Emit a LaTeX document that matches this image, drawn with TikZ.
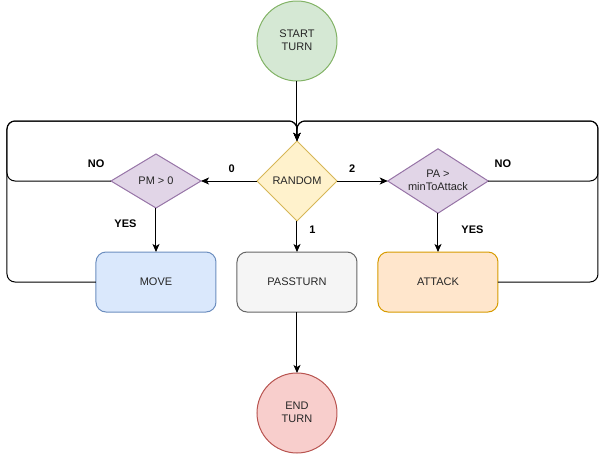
\documentclass[tikz,border=0pt]{standalone}
\usepackage{fontspec}
\setmainfont{Liberation Sans}
\usepackage{tikz}
\usetikzlibrary{arrows.meta,matrix,shapes.geometric,positioning,calc}

\definecolor{startfill}{HTML}{D5E8D4}\definecolor{startline}{HTML}{82B366}
\definecolor{randfill}{HTML}{FFF2CC}\definecolor{randline}{HTML}{D6B656}
\definecolor{condfill}{HTML}{E1D5E7}\definecolor{condline}{HTML}{9673A6}
\definecolor{movefill}{HTML}{DAE8FC}\definecolor{moveline}{HTML}{6C8EBF}
\definecolor{passfill}{HTML}{F5F5F5}\definecolor{passline}{HTML}{666666}
\definecolor{atkfill}{HTML}{FFE6CC}\definecolor{atkline}{HTML}{D79B00}
\definecolor{endfill}{HTML}{F8CECC}\definecolor{endline}{HTML}{B85450}

\newcommand{\twoline}[2]{\begin{tabular}{@{}c@{}}#1\\#2\end{tabular}}

\begin{document}
\begin{tikzpicture}[line width=1pt,
  term/.style={circle, draw, minimum size=80pt, inner sep=0pt},
  choice/.style={diamond, draw, inner sep=0pt, aspect=1.56},
  act/.style={rectangle, draw, rounded corners=10pt, minimum width=120pt, minimum height=60pt},
  flow/.style={-{Stealth[length=8pt,width=7pt,inset=2pt]}},
  lbl/.style={font=\fontsize{11}{13}\selectfont\bfseries, inner sep=0pt}]
\matrix (m)[matrix of nodes, inner sep=0pt, outer sep=0pt, column sep=20pt, row sep=30pt, nodes={anchor=center, font=\fontsize{11}{13}\selectfont, text=black!85} ]{
 & |[term, fill=startfill, draw=startline]| \twoline{START}{TURN} & \\[29pt]
|[choice, fill=condfill, draw=condline, minimum width=90pt, minimum height=54pt]| PM > 0 &
 |[choice, fill=randfill, draw=randline, minimum width=80pt, minimum height=80pt]| RANDOM &
 |[choice, fill=condfill, draw=condline, minimum width=100pt, minimum height=64pt]| \twoline{PA >}{minToAttack} \\
|[act, fill=movefill, draw=moveline]| MOVE & |[act, fill=passfill, draw=passline]| PASSTURN & |[act, fill=atkfill, draw=atkline]| ATTACK \\[30pt]
 & |[term, fill=endfill, draw=endline]| \twoline{END}{TURN} & \\
};

\useasboundingbox ($(m-1-2.center)+(-297pt,41pt)$) rectangle ++(606pt,-451pt);

\coordinate (top) at ($(m-2-2.north)+(0,20pt)$);
\coordinate (lt) at ($(m-3-1.west)+(-89pt,0)$);
\coordinate (rt) at ($(m-3-3.east)+(100pt,0)$);

\draw[flow] (m-1-2) -- (m-2-2);
\draw[flow] (m-2-2) -- node[lbl, pos=0.45, above=8pt] (zero) {0} (m-2-1);
\draw[flow] (m-2-2) -- node[lbl, pos=0.3, above=8pt] (two) {2} (m-2-3);
\draw[flow] (m-2-2) -- node[lbl, pos=0.27, right=12pt] (one) {1} (m-3-2);
\draw[flow] (m-2-1) -- node[lbl, pos=0.35, left=19pt] (yesl) {YES} (m-3-1);
\draw[flow] (m-2-3) -- node[lbl, pos=0.42, right=23pt] (yesr) {YES} (m-3-3);
\draw[flow] (m-3-2) -- (m-4-2);

% loops back to RANDOM
\draw[flow, rounded corners=8pt] (m-2-1.west) node[lbl, above left=13pt and 6pt] (nol) {NO} -| (lt |- top) -| (m-2-2.north);
\draw[flow, rounded corners=8pt] (m-3-1.west) -| (lt |- top) -| (m-2-2.north);
\draw[flow, rounded corners=8pt] (m-2-3.east) node[lbl, above right=13pt and 6pt] (nor) {NO} -| (rt |- top) -| (m-2-2.north);
\draw[flow, rounded corners=8pt] (m-3-3.east) -| (rt |- top) -| (m-2-2.north);
\end{tikzpicture}
\end{document}
